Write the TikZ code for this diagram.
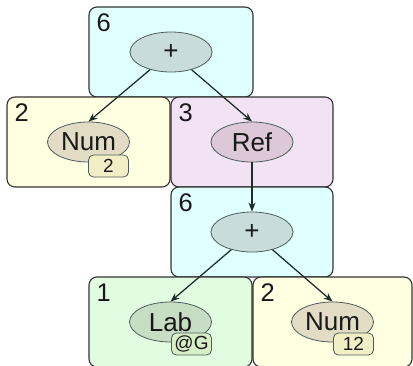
\documentclass[tikz,border=0pt]{standalone}
\usepackage{fontspec}
\setmainfont{Liberation Sans}
\usetikzlibrary{shapes.geometric,arrows.meta}
\definecolor{cyanbox}{HTML}{E0FFFF}
\definecolor{yelbox}{HTML}{FFFFE2}
\definecolor{pinkbox}{HTML}{F1E3F3}
\definecolor{grnbox}{HTML}{E2FCE2}
\definecolor{cyanell}{HTML}{C8DCDC}
\definecolor{yelell}{HTML}{E2DCC4}
\definecolor{pinkell}{HTML}{DCC8D8}
\definecolor{grnell}{HTML}{C8DEC4}
\definecolor{yelbadge}{HTML}{F2EEC6}
\definecolor{grnbadge}{HTML}{D8EEC6}
\definecolor{edgecol}{HTML}{333333}
\definecolor{ellline}{HTML}{4E5E5A}
\definecolor{linkcol}{HTML}{1C2C28}
\begin{document}
\begin{tikzpicture}[x=1pt,y=-1pt,
  box/.style={draw=edgecol, line width=1.1pt, rounded corners=8pt, inner sep=0pt, minimum height=90pt},
  numlab/.style={anchor=base west, inner sep=0pt, text=black!90, font=\fontsize{25.5}{28}\selectfont},
  ell/.style={ellipse, draw=ellline, line width=0.8pt, minimum width=82pt, minimum height=40pt, inner sep=0pt, text=black!90, font=\fontsize{26}{28}\selectfont},
  badge/.style={draw=ellline, line width=0.8pt, rounded corners=5pt, minimum width=40pt, minimum height=22pt, inner sep=1pt, text=black!90, font=\fontsize{19}{20}\selectfont},
  link/.style={draw=linkcol, line width=1.25pt, -{Stealth[length=9pt,width=7pt]}}
]
\useasboundingbox (0,0) rectangle (413,365);
\clip (0,0) rectangle (413,365);
% boxes
\node[box, fill=cyanbox, minimum width=164pt] (b1) at (171,52) {};
\node[box, fill=yelbox, minimum width=163pt] (b2) at (88.5,142) {};
\node[box, fill=pinkbox, minimum width=162pt] (b3) at (252,142) {};
\node[box, fill=cyanbox, minimum width=162pt] (b4) at (252,232) {};
\node[box, fill=grnbox, minimum width=163pt] (b5) at (170.5,322) {};
\node[box, fill=yelbox, minimum width=159pt] (b6) at (332.5,322) {};
% numbers
\node[numlab] (n1) at ([xshift=8pt,yshift=-25pt]b1.north west) {6};
\node[numlab] (n2) at ([xshift=8pt,yshift=-25pt]b2.north west) {2};
\node[numlab] (n3) at ([xshift=8pt,yshift=-25pt]b3.north west) {3};
\node[numlab] (n4) at ([xshift=8pt,yshift=-25pt]b4.north west) {6};
\node[numlab] (n5) at ([xshift=8pt,yshift=-25pt]b5.north west) {1};
\node[numlab] (n6) at ([xshift=8pt,yshift=-25pt]b6.north west) {2};
% ellipses
\node[ell, fill=cyanell] (e1) at (b1.center) {+};
\node[ell, fill=yelell] (e2) at (b2.center) {Num};
\node[ell, fill=pinkell] (e3) at (b3.center) {Ref};
\node[ell, fill=cyanell] (e4) at (b4.center) {+};
\node[ell, fill=grnell] (e5) at (b5.center) {Lab};
\node[ell, fill=yelell] (e6) at (b6.center) {Num};
% badges
\node[badge, fill=yelbadge] (g2) at ([xshift=20pt,yshift=-24pt]e2.center) {2};
\node[badge, fill=grnbadge] (g5) at ([xshift=21pt,yshift=-22pt]e5.center) {@G};
\node[badge, fill=yelbadge] (g6) at ([xshift=21pt,yshift=-22pt]e6.center) {12};
% links
\draw[link] (e1) -- (e2.north);
\draw[link] (e1) -- (e3.north);
\draw[link] (e3) -- (e4.north);
\draw[link] (e4) -- (e5.north);
\draw[link] (e4) -- (e6.north);
\end{tikzpicture}
\end{document}
